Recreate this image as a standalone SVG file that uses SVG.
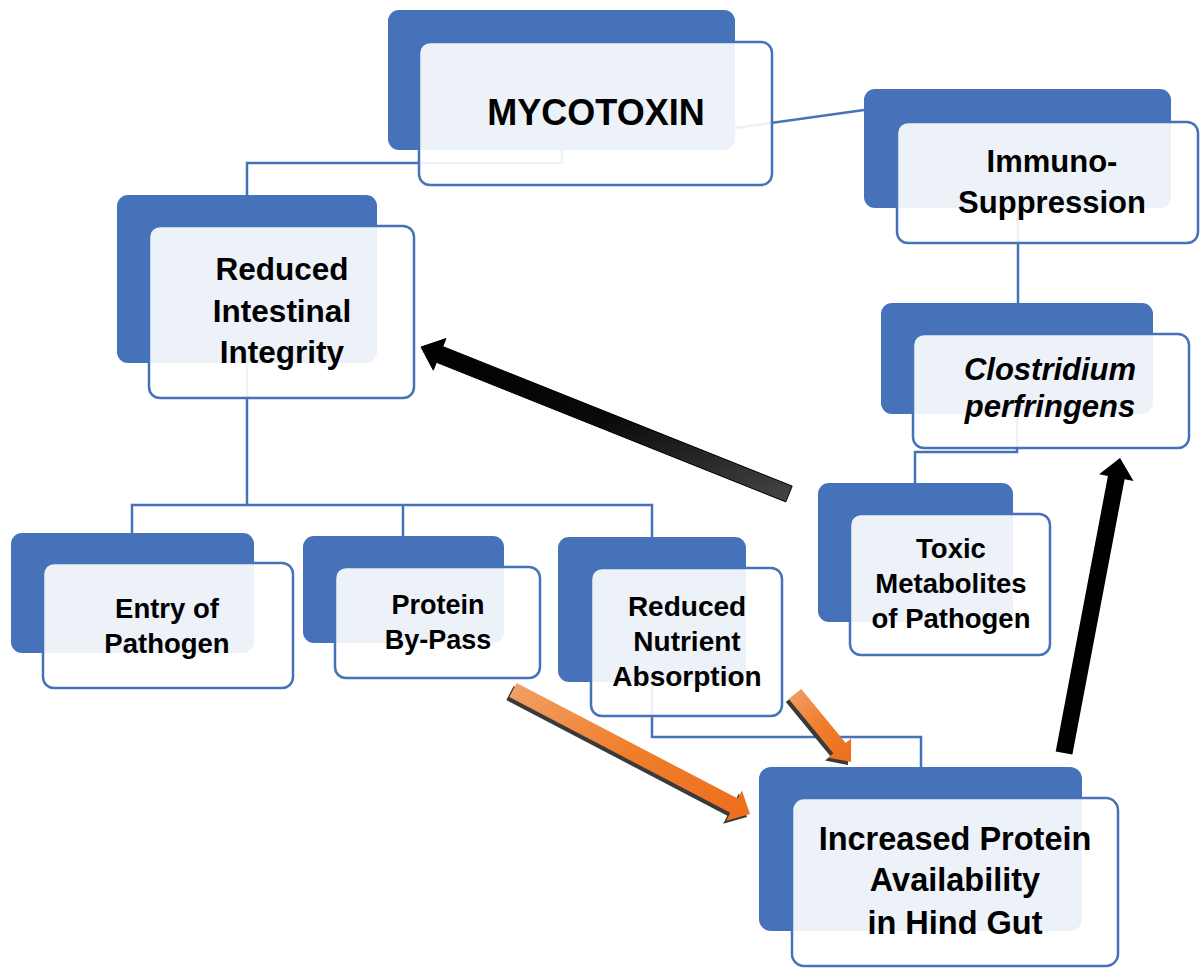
<svg xmlns="http://www.w3.org/2000/svg" width="1200" height="976" viewBox="0 0 1200 976">
<defs>
<style>
.back{fill:#4672B9;}
.front{fill:#ffffff;fill-opacity:0.9;stroke:#4672B9;stroke-width:2.5;}
.conn{fill:none;stroke:#4672B9;stroke-width:2.5;}
.t{font-family:"Liberation Sans",Arial,sans-serif;font-weight:bold;fill:#000;text-anchor:middle;}
.shadow{fill:#3a3a3a;}
</style>
<linearGradient id="gOrange" x1="0" y1="0" x2="1" y2="1">
<stop offset="0" stop-color="#F2A068"/>
<stop offset="0.5" stop-color="#F07E2C"/>
<stop offset="1" stop-color="#EC6E1C"/>
</linearGradient>
<linearGradient id="gBlack1" x1="1" y1="1" x2="0" y2="0">
<stop offset="0" stop-color="#464646"/>
<stop offset="0.5" stop-color="#0a0a0a"/>
<stop offset="1" stop-color="#000000"/>
</linearGradient>
</defs>
<rect width="1200" height="976" fill="#ffffff"/>

<g id="connectors">
<path class="conn" d="M562,150 V163 H247 V195"/>
<path class="conn" d="M735,128 L864,110"/>
<path class="conn" d="M1018,208 V303"/>
<path class="conn" d="M247,363 V505"/>
<path class="conn" d="M132,533 V505 H652 V537"/>
<path class="conn" d="M403,505 V536"/>
<path class="conn" d="M1017,414 V452 H915 V483"/>
<path class="conn" d="M652,682 V737 H921 V767"/>
</g>

<g id="node-mycotoxin">
<rect class="back" x="388" y="10" width="347" height="140" rx="11"/>
<rect class="front" x="419" y="42" width="353" height="143" rx="11"/>
<text class="t" x="596" y="125" font-size="36">MYCOTOXIN</text>
</g>

<g id="node-immuno">
<rect class="back" x="864" y="89" width="307" height="119" rx="11"/>
<rect class="front" x="897" y="122" width="301" height="121" rx="11"/>
<text class="t" x="1052" y="172" font-size="31">Immuno-</text>
<text class="t" x="1052" y="213" font-size="31">Suppression</text>
</g>

<g id="node-clostridium">
<rect class="back" x="881" y="303" width="272" height="111" rx="11"/>
<rect class="front" x="913" y="334" width="276" height="114" rx="11"/>
<text class="t" x="1050" y="380" font-size="31" font-style="italic">Clostridium</text>
<text class="t" x="1050" y="417" font-size="31" font-style="italic">perfringens</text>
</g>

<g id="node-intestinal">
<rect class="back" x="117" y="195" width="260" height="168" rx="11"/>
<rect class="front" x="149" y="226" width="265" height="172" rx="11"/>
<text class="t" x="282" y="280" font-size="31.5">Reduced</text>
<text class="t" x="282" y="322" font-size="31.5">Intestinal</text>
<text class="t" x="282" y="363" font-size="31.5">Integrity</text>
</g>

<g id="node-toxic">
<rect class="back" x="818" y="483" width="195" height="139" rx="11"/>
<rect class="front" x="850" y="514" width="200" height="141" rx="11"/>
<text class="t" x="951" y="558" font-size="27.5">Toxic</text>
<text class="t" x="951" y="593" font-size="27.5">Metabolites</text>
<text class="t" x="951" y="628" font-size="27.5">of Pathogen</text>
</g>

<g id="node-entry">
<rect class="back" x="11" y="533" width="243" height="120" rx="11"/>
<rect class="front" x="43" y="563" width="250" height="125" rx="11"/>
<text class="t" x="167" y="618" font-size="27.5">Entry of</text>
<text class="t" x="167" y="653" font-size="27.5">Pathogen</text>
</g>

<g id="node-bypass">
<rect class="back" x="303" y="536" width="201" height="107" rx="11"/>
<rect class="front" x="335" y="567" width="205" height="111" rx="11"/>
<text class="t" x="438" y="614" font-size="27">Protein</text>
<text class="t" x="438" y="649" font-size="27">By-Pass</text>
</g>

<g id="node-nutrient">
<rect class="back" x="558" y="537" width="188" height="145" rx="11"/>
<rect class="front" x="591" y="568" width="191" height="148" rx="11"/>
<text class="t" x="687" y="616" font-size="28">Reduced</text>
<text class="t" x="687" y="651" font-size="28">Nutrient</text>
<text class="t" x="687" y="686" font-size="28">Absorption</text>
</g>

<g id="node-increased">
<rect class="back" x="759" y="767" width="323" height="164" rx="12"/>
<rect class="front" x="792" y="798" width="326" height="168" rx="12"/>
<text class="t" x="955" y="850" font-size="32.5">Increased Protein</text>
<text class="t" x="955" y="891" font-size="32.5">Availability</text>
<text class="t" x="955" y="934" font-size="32.5">in Hind Gut</text>
</g>

<g id="arrows">
<polygon fill="url(#gBlack1)" stroke="#000" stroke-width="1" points="792.2,486.1 442.7,346.5 445.9,338.6 421,347 433.3,370.2 436.4,362.3 785.8,501.9"/>
<polygon fill="#000" points="1072.4,754.6 1124.6,479.2 1133.5,480.9 1120,458 1099.1,474.3 1107.9,476.0 1055.7,751.4"/>
<polygon class="shadow" transform="translate(-3,3)" points="509.3,697.1 730.3,812.7 726.2,820.7 750,814 741.9,790.6 737.8,798.6 516.7,682.9"/>
<polygon fill="url(#gOrange)" points="509.3,697.1 730.3,812.7 726.2,820.7 750,814 741.9,790.6 737.8,798.6 516.7,682.9"/>
<polygon class="shadow" transform="translate(-3,3)" points="788.8,699.1 833.4,753.2 828.0,757.6 851,762 851.1,738.6 845.7,743.0 801.2,688.9"/>
<polygon fill="url(#gOrange)" points="788.8,699.1 833.4,753.2 828.0,757.6 851,762 851.1,738.6 845.7,743.0 801.2,688.9"/>
</g>
</svg>
